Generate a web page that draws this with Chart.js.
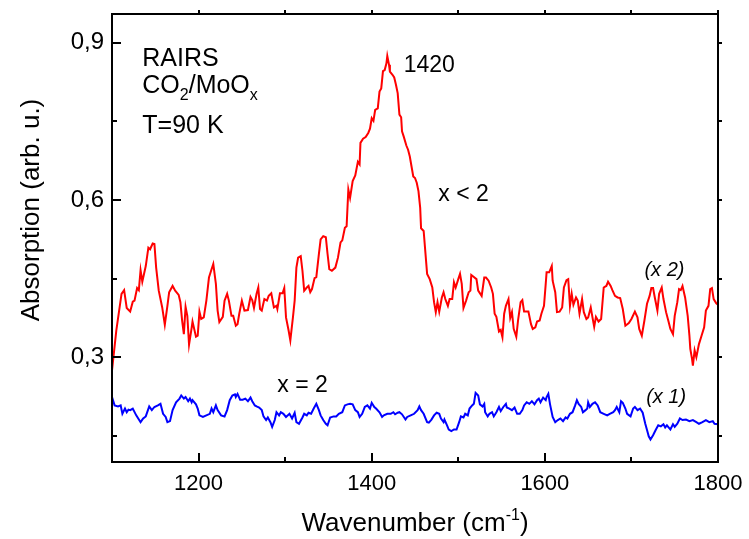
<!DOCTYPE html>
<html>
<head>
<meta charset="utf-8">
<script src="https://cdn.jsdelivr.net/npm/chart.js@4.4.0/dist/chart.umd.min.js"></script>
<style>
  html, body { margin: 0; padding: 0; background: #fff; }
  #wrap { width: 749px; height: 539px; }
</style>
</head>
<body>
<div id="wrap"><canvas id="chart" width="749" height="539"></canvas></div>
<script>
// x < 2 spectrum (red, shown x 2)
const redWavenumber = [
    1100, 1105, 1111, 1114, 1117, 1121, 1124, 1126, 1129, 1131, 1133, 1135, 1139, 1142, 1144, 1147, 1149, 1151, 1154, 1158,
    1161, 1164, 1166, 1170, 1173, 1177, 1179, 1181, 1183, 1185, 1187, 1189, 1192, 1193, 1197, 1199, 1201, 1203, 1206, 1209,
    1212, 1215, 1217, 1220, 1222, 1224, 1228, 1230, 1233, 1235, 1238, 1240, 1243, 1245, 1247, 1250, 1253, 1257, 1260, 1262,
    1264, 1267, 1269, 1271, 1273, 1276, 1279, 1281, 1284, 1287, 1290, 1291, 1294, 1297, 1299, 1301, 1304, 1306, 1309, 1311,
    1313, 1315, 1318, 1320, 1322, 1325, 1327, 1329, 1331, 1334, 1336, 1339, 1341, 1344, 1347, 1349, 1351, 1354, 1358, 1361,
    1364, 1366, 1369, 1371, 1373, 1375, 1378, 1381, 1384, 1386, 1387, 1390, 1393, 1396, 1398, 1400, 1402, 1404, 1407, 1409,
    1411, 1413, 1415, 1417, 1418, 1420, 1421, 1424, 1426, 1428, 1430, 1432, 1434, 1435, 1437, 1440, 1442, 1444, 1446, 1448,
    1450, 1452, 1454, 1456, 1457, 1460, 1464, 1467, 1470, 1472, 1474, 1476, 1478, 1481, 1483, 1485, 1488, 1490, 1493, 1495,
    1497, 1500, 1502, 1504, 1506, 1509, 1512, 1514, 1515, 1518, 1521, 1523, 1527, 1530, 1532, 1535, 1538, 1540, 1542, 1544,
    1547, 1549, 1551, 1553, 1555, 1558, 1560, 1562, 1564, 1567, 1569, 1572, 1574, 1576, 1579, 1581, 1584, 1586, 1589, 1591,
    1594, 1596, 1599, 1601, 1602, 1605, 1608, 1609, 1612, 1614, 1617, 1620, 1622, 1625, 1627, 1629, 1631, 1633, 1636, 1638,
    1640, 1643, 1645, 1648, 1650, 1653, 1655, 1657, 1659, 1662, 1665, 1668, 1671, 1673, 1676, 1678, 1681, 1684, 1687, 1690,
    1693, 1697, 1700, 1704, 1707, 1709, 1712, 1715, 1718, 1721, 1723, 1725, 1727, 1730, 1732, 1735, 1737, 1740, 1743, 1745,
    1748, 1750, 1753, 1755, 1757, 1759, 1762, 1765, 1767, 1768, 1770, 1771, 1773, 1775, 1778, 1781, 1784, 1786, 1789, 1791,
    1793, 1795, 1798, 1800
];
const redAbsorption = [
    0.275, 0.351, 0.421, 0.428, 0.394, 0.387, 0.406, 0.408, 0.432, 0.428, 0.466, 0.444, 0.474, 0.509, 0.506, 0.517, 0.516, 0.471, 0.427, 0.395,
    0.362, 0.398, 0.424, 0.436, 0.427, 0.419, 0.405, 0.370, 0.344, 0.396, 0.379, 0.324, 0.356, 0.368, 0.339, 0.341, 0.387, 0.373, 0.376, 0.408,
    0.452, 0.468, 0.478, 0.440, 0.389, 0.367, 0.377, 0.408, 0.421, 0.408, 0.379, 0.379, 0.360, 0.363, 0.383, 0.408, 0.389, 0.390, 0.415, 0.409,
    0.394, 0.421, 0.433, 0.392, 0.389, 0.411, 0.408, 0.417, 0.422, 0.395, 0.398, 0.392, 0.422, 0.422, 0.432, 0.376, 0.351, 0.332, 0.376, 0.408,
    0.471, 0.490, 0.493, 0.465, 0.427, 0.433, 0.436, 0.424, 0.430, 0.451, 0.453, 0.497, 0.525, 0.531, 0.529, 0.497, 0.468, 0.465, 0.471, 0.490,
    0.519, 0.523, 0.547, 0.550, 0.620, 0.604, 0.636, 0.647, 0.673, 0.668, 0.709, 0.717, 0.720, 0.728, 0.736, 0.756, 0.751, 0.772, 0.775, 0.807,
    0.813, 0.846, 0.848, 0.861, 0.875, 0.858, 0.845, 0.839, 0.834, 0.820, 0.804, 0.763, 0.758, 0.731, 0.721, 0.704, 0.696, 0.683, 0.664, 0.645,
    0.642, 0.633, 0.617, 0.585, 0.546, 0.541, 0.459, 0.449, 0.433, 0.405, 0.386, 0.405, 0.387, 0.414, 0.424, 0.411, 0.398, 0.411, 0.411, 0.443,
    0.433, 0.449, 0.459, 0.440, 0.394, 0.408, 0.424, 0.427, 0.457, 0.453, 0.449, 0.427, 0.417, 0.452, 0.452, 0.446, 0.433, 0.421, 0.383, 0.377,
    0.349, 0.352, 0.338, 0.383, 0.398, 0.411, 0.375, 0.386, 0.354, 0.339, 0.370, 0.405, 0.409, 0.387, 0.387, 0.387, 0.363, 0.354, 0.357, 0.368,
    0.370, 0.383, 0.398, 0.440, 0.462, 0.462, 0.474, 0.446, 0.424, 0.386, 0.387, 0.395, 0.433, 0.447, 0.449, 0.398, 0.421, 0.400, 0.414, 0.408,
    0.383, 0.411, 0.386, 0.373, 0.376, 0.395, 0.376, 0.358, 0.377, 0.368, 0.373, 0.433, 0.436, 0.444, 0.436, 0.428, 0.417, 0.414, 0.413, 0.392,
    0.360, 0.365, 0.373, 0.387, 0.376, 0.354, 0.341, 0.370, 0.402, 0.417, 0.432, 0.432, 0.414, 0.389, 0.421, 0.433, 0.411, 0.386, 0.367, 0.354,
    0.344, 0.379, 0.405, 0.430, 0.428, 0.436, 0.414, 0.379, 0.341, 0.316, 0.297, 0.284, 0.313, 0.300, 0.325, 0.341, 0.357, 0.389, 0.398, 0.430,
    0.432, 0.411, 0.403, 0.400
];

// x = 2 spectrum (blue, shown x 1)
const blueWavenumber = [
    1100, 1103, 1107, 1110, 1112, 1115, 1117, 1119, 1121, 1124, 1128, 1133, 1136, 1139, 1143, 1146, 1149, 1153, 1156, 1159,
    1162, 1164, 1167, 1170, 1174, 1178, 1180, 1183, 1185, 1188, 1190, 1192, 1193, 1197, 1199, 1201, 1205, 1209, 1213, 1215,
    1217, 1220, 1222, 1226, 1230, 1233, 1236, 1239, 1242, 1243, 1245, 1248, 1251, 1254, 1257, 1260, 1262, 1265, 1267, 1270,
    1273, 1275, 1278, 1280, 1283, 1285, 1288, 1290, 1293, 1295, 1298, 1301, 1305, 1308, 1311, 1313, 1316, 1320, 1322, 1325,
    1327, 1330, 1333, 1336, 1339, 1341, 1344, 1347, 1349, 1352, 1356, 1359, 1362, 1366, 1369, 1372, 1375, 1378, 1381, 1384,
    1386, 1389, 1392, 1395, 1398, 1400, 1403, 1405, 1409, 1412, 1414, 1418, 1422, 1425, 1427, 1430, 1432, 1435, 1439, 1441,
    1445, 1449, 1453, 1455, 1457, 1460, 1464, 1466, 1469, 1472, 1475, 1478, 1480, 1483, 1484, 1487, 1489, 1492, 1495, 1498,
    1501, 1503, 1506, 1508, 1511, 1513, 1516, 1518, 1520, 1523, 1525, 1528, 1530, 1531, 1534, 1536, 1539, 1541, 1544, 1547,
    1549, 1552, 1555, 1556, 1559, 1562, 1565, 1568, 1571, 1574, 1576, 1579, 1582, 1585, 1588, 1591, 1593, 1595, 1598, 1601,
    1602, 1604, 1606, 1609, 1612, 1615, 1618, 1621, 1624, 1626, 1629, 1632, 1635, 1637, 1639, 1642, 1644, 1647, 1649, 1650,
    1652, 1655, 1658, 1661, 1664, 1668, 1672, 1675, 1679, 1681, 1683, 1686, 1688, 1690, 1693, 1695, 1699, 1702, 1704, 1707,
    1710, 1713, 1716, 1718, 1720, 1722, 1725, 1728, 1731, 1734, 1737, 1739, 1741, 1745, 1748, 1750, 1753, 1756, 1759, 1763,
    1767, 1771, 1775, 1778, 1782, 1786, 1790, 1794, 1796, 1800
];
const blueAbsorption = [
    0.224, 0.208, 0.206, 0.208, 0.192, 0.202, 0.195, 0.200, 0.199, 0.202, 0.189, 0.176, 0.183, 0.187, 0.206, 0.199, 0.205, 0.208, 0.211, 0.192,
    0.186, 0.176, 0.178, 0.199, 0.214, 0.221, 0.227, 0.221, 0.224, 0.216, 0.221, 0.214, 0.218, 0.210, 0.202, 0.189, 0.186, 0.189, 0.192, 0.202,
    0.195, 0.208, 0.199, 0.189, 0.187, 0.199, 0.218, 0.227, 0.229, 0.224, 0.230, 0.219, 0.219, 0.221, 0.216, 0.223, 0.216, 0.208, 0.206, 0.204,
    0.199, 0.187, 0.180, 0.185, 0.176, 0.167, 0.180, 0.195, 0.189, 0.195, 0.192, 0.186, 0.192, 0.183, 0.194, 0.176, 0.173, 0.185, 0.192, 0.189,
    0.194, 0.192, 0.202, 0.211, 0.199, 0.189, 0.180, 0.173, 0.170, 0.185, 0.187, 0.187, 0.192, 0.195, 0.208, 0.210, 0.211, 0.210, 0.199, 0.195,
    0.186, 0.192, 0.205, 0.208, 0.202, 0.213, 0.205, 0.202, 0.195, 0.186, 0.189, 0.192, 0.192, 0.195, 0.191, 0.194, 0.195, 0.191, 0.181, 0.186,
    0.189, 0.192, 0.199, 0.206, 0.199, 0.192, 0.176, 0.175, 0.181, 0.189, 0.194, 0.192, 0.183, 0.176, 0.181, 0.170, 0.162, 0.159, 0.162, 0.162,
    0.176, 0.187, 0.185, 0.192, 0.189, 0.202, 0.208, 0.211, 0.232, 0.227, 0.210, 0.206, 0.211, 0.195, 0.187, 0.192, 0.195, 0.187, 0.195, 0.205,
    0.197, 0.205, 0.211, 0.204, 0.202, 0.199, 0.204, 0.192, 0.192, 0.199, 0.208, 0.214, 0.211, 0.216, 0.210, 0.218, 0.221, 0.214, 0.223, 0.218,
    0.224, 0.230, 0.210, 0.186, 0.176, 0.180, 0.183, 0.178, 0.185, 0.183, 0.192, 0.195, 0.208, 0.218, 0.211, 0.205, 0.195, 0.199, 0.202, 0.214,
    0.205, 0.211, 0.214, 0.208, 0.195, 0.192, 0.189, 0.192, 0.195, 0.199, 0.205, 0.195, 0.216, 0.213, 0.202, 0.192, 0.187, 0.202, 0.205, 0.199,
    0.202, 0.194, 0.173, 0.161, 0.149, 0.143, 0.151, 0.161, 0.170, 0.168, 0.172, 0.166, 0.170, 0.162, 0.172, 0.167, 0.173, 0.183, 0.180, 0.181,
    0.178, 0.180, 0.176, 0.173, 0.176, 0.180, 0.176, 0.178, 0.173, 0.172
];

const xTickValues = [1200, 1300, 1400, 1500, 1600, 1700, 1800];
const xLabelValues = [1200, 1400, 1600, 1800];
const yTickValues = [0.15, 0.3, 0.45, 0.6, 0.75, 0.9];
const yLabelValues = [0.3, 0.6, 0.9];

const FONT = 'Arial, "Liberation Sans", sans-serif';

// text placed on the plot, anchored in data units (left edge, baseline)
const notes = [
    { runs: [{ t: 'RAIRS' }], x: 1135, y: 0.855, size: 25 },
    { runs: [{ t: 'CO' }, { t: '2', sub: true }, { t: '/MoO' }, { t: 'x', sub: true }], x: 1135, y: 0.804, size: 25 },
    { runs: [{ t: 'T=90 K' }], x: 1135, y: 0.728, size: 25 },
    { runs: [{ t: '1420' }], x: 1437, y: 0.844, size: 23 },
    { runs: [{ t: 'x < 2' }], x: 1477, y: 0.598, size: 23 },
    { runs: [{ t: '(x 2)' }], x: 1715, y: 0.455, size: 20, italic: true },
    { runs: [{ t: 'x = 2' }], x: 1291, y: 0.233, size: 23 },
    { runs: [{ t: '(x 1)' }], x: 1717, y: 0.212, size: 20, italic: true }
];

function drawRuns(ctx, runs, x, y, size, italic, align) {
    const style = italic ? 'italic ' : '';
    const small = Math.round(size * 0.62);
    let total = 0;
    runs.forEach(r => {
        ctx.font = style + (r.sub || r.sup ? small : size) + 'px ' + FONT;
        total += ctx.measureText(r.t).width;
    });
    let cx = align === 'center' ? x - total / 2 : x;
    ctx.textBaseline = 'alphabetic';
    ctx.textAlign = 'left';
    runs.forEach(r => {
        ctx.font = style + (r.sub || r.sup ? small : size) + 'px ' + FONT;
        let dy = 0;
        if (r.sub) dy = size * 0.28;
        if (r.sup) dy = -size * 0.42;
        ctx.fillText(r.t, cx, y + dy);
        cx += ctx.measureText(r.t).width;
    });
}

const frame = {
    id: 'frame',
    afterDatasetsDraw(chart) {
        const { ctx, chartArea: a, scales: { x, y } } = chart;
        ctx.save();
        ctx.strokeStyle = '#000';
        ctx.lineWidth = 2;
        ctx.strokeRect(a.left, a.top, a.right - a.left, a.bottom - a.top);
        ctx.beginPath();
        // bottom / left ticks point inward, top / right ones are short and outward
        x.ticks.forEach(t => {
            const px = Math.round(x.getPixelForValue(t.value));
            const len = xLabelValues.includes(t.value) ? 9 : 5;
            ctx.moveTo(px, a.bottom); ctx.lineTo(px, a.bottom - len);
            ctx.moveTo(px, a.top); ctx.lineTo(px, a.top - 4);
        });
        y.ticks.forEach(t => {
            const py = Math.round(y.getPixelForValue(t.value));
            const len = yLabelValues.some(v => Math.abs(v - t.value) < 1e-6) ? 9 : 5;
            ctx.moveTo(a.left, py); ctx.lineTo(a.left + len, py);
            ctx.moveTo(a.right, py); ctx.lineTo(a.right + 4, py);
        });
        ctx.stroke();
        ctx.restore();
    },
    afterDraw(chart) {
        const { ctx, chartArea: a, scales: { x, y } } = chart;
        ctx.save();
        ctx.fillStyle = '#000';
        notes.forEach(n => {
            drawRuns(ctx, n.runs, x.getPixelForValue(n.x), y.getPixelForValue(n.y), n.size, n.italic, 'left');
        });
        // axis titles
        drawRuns(ctx, [{ t: 'Wavenumber (cm' }, { t: '-1', sup: true }, { t: ')' }],
            (a.left + a.right) / 2, 531, 26, false, 'center');
        ctx.translate(39, 210);
        ctx.rotate(-Math.PI / 2);
        drawRuns(ctx, [{ t: 'Absorption (arb. u.)' }], 0, 0, 26, false, 'center');
        ctx.restore();
    }
};

new Chart(document.getElementById('chart'), {
    type: 'line',
    data: {
        datasets: [
            {
                label: 'x < 2',
                data: redWavenumber.map((w, i) => ({ x: w, y: redAbsorption[i] })),
                borderColor: '#ff0000',
                borderWidth: 2,
                pointRadius: 0,
                tension: 0,
                fill: false
            },
            {
                label: 'x = 2',
                data: blueWavenumber.map((w, i) => ({ x: w, y: blueAbsorption[i] })),
                borderColor: '#0000ff',
                borderWidth: 2,
                pointRadius: 0,
                tension: 0,
                fill: false
            }
        ]
    },
    options: {
        responsive: false,
        animation: false,
        parsing: false,
        layout: { padding: { left: 0, right: 31, top: 14, bottom: 0 } },
        scales: {
            x: {
                type: 'linear',
                min: 1100,
                max: 1800,
                afterBuildTicks: s => { s.ticks = xTickValues.map(v => ({ value: v })); },
                afterFit: s => { s.height = 77; s.paddingLeft = 0; s.paddingRight = 0; },
                grid: { display: false, drawTicks: false },
                border: { display: false },
                ticks: {
                    autoSkip: false,
                    maxRotation: 0,
                    padding: 9,
                    color: '#000',
                    font: { family: FONT, size: 22 },
                    callback: v => xLabelValues.includes(v) ? String(v) : ''
                }
            },
            y: {
                min: 0.1,
                max: 0.955,
                afterBuildTicks: s => { s.ticks = yTickValues.map(v => ({ value: v })); },
                afterFit: s => { s.width = 112; s.paddingTop = 0; s.paddingBottom = 0; },
                grid: { display: false, drawTicks: false },
                border: { display: false },
                ticks: {
                    autoSkip: false,
                    padding: 8,
                    color: '#000',
                    font: { family: FONT, size: 24 },
                    callback: v => yLabelValues.some(l => Math.abs(l - v) < 1e-6) ? v.toFixed(1).replace('.', ',') : ''
                }
            }
        },
        plugins: {
            legend: { display: false },
            tooltip: { enabled: false }
        }
    },
    plugins: [frame]
});
</script>
</body>
</html>
